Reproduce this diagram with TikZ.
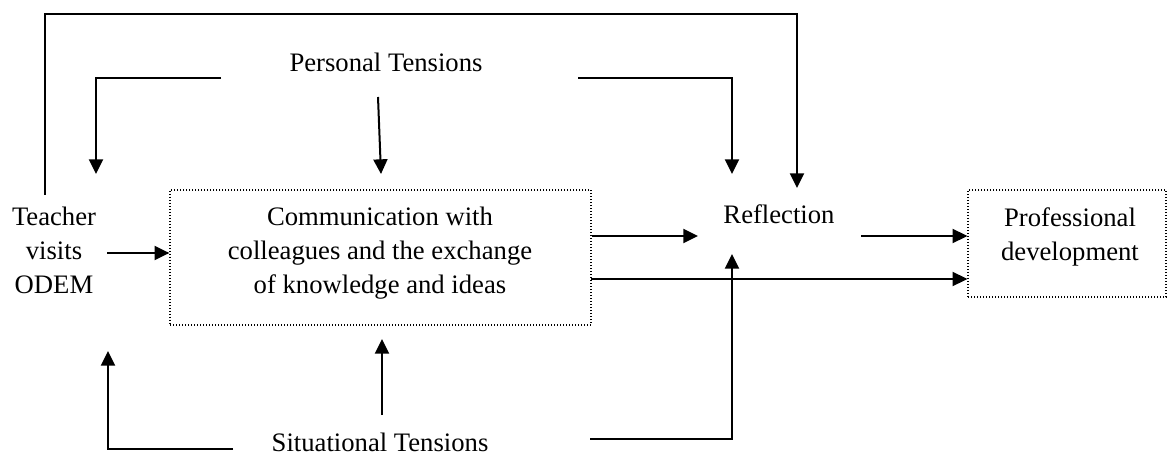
\documentclass[tikz,border=0pt]{standalone}
\usepackage{fontspec}
\setmainfont{Liberation Serif}
\usetikzlibrary{arrows.meta}
\newcommand{\px}{0.45pt}
\tikzset{
  arr/.style={line width=0.9pt, -{Triangle[length=6.6pt, width=6.3pt]}},
  dotbox/.style={draw, line width=0.6pt, dash pattern=on 0.45pt off 0.9pt, inner sep=0pt},
  txt/.style={align=center, inner sep=0pt, font=\fontsize{12}{15.3}\selectfont}
}

\begin{document}
\begin{tikzpicture}[x=\px, y=-\px]
  \useasboundingbox (0,0) rectangle (1168,456);
  % texts and boxes
  \node[txt, anchor=base] (personal) at (386,72) {Personal Tensions};
  \node[txt, anchor=base] (situational) at (380,451) {Situational Tensions};
  \node[txt, anchor=base] (reflection) at (779,223) {Reflection};
  \node[txt] (teacher) at (54,250) {Teacher\\visits\\ODEM};
  \node[dotbox, minimum width=421*\px, minimum height=135*\px] (commbox) at (380.5,257.5) {};
  \node[txt] (comm) at (380,253) {Communication with\\colleagues and the exchange\\of knowledge and ideas};
  \node[dotbox, minimum width=198*\px, minimum height=107*\px] (profbox) at (1067,243.5) {};
  \node[txt] (prof) at (1070,236.5) {Professional\\development};

  % free ends of the connectors
  \coordinate (loopS) at (45,195);
  \coordinate (loopT) at (45,14);
  \coordinate (loopE) at (797,188);
  \coordinate (persL) at (221,78);
  \coordinate (persM) at (378,97);
  \coordinate (persR) at (578,78);
  \coordinate (teachIn) at (96,174);
  \coordinate (commIn) at (381,174);
  \coordinate (reflInP) at (732,174);
  \coordinate (teachOut) at (107,253);
  \coordinate (reflInC) at (698,236);
  \coordinate (commOut) at (591,279);
  \coordinate (reflOut) at (861,236);
  \coordinate (sitL) at (233,449);
  \coordinate (sitM) at (382,415);
  \coordinate (sitR) at (590,439);
  \coordinate (teachUp) at (108,351);
  \coordinate (commUp) at (382,339);
  \coordinate (reflUp) at (732,254);

  % connectors
  \draw[arr] (loopS) -- (loopT) -| (loopE);
  \draw[arr] (persL) -| (teachIn);
  \draw[arr] (persM) -- (commIn);
  \draw[arr] (persR) -| (reflInP);
  \draw[arr] (teachOut) -- (commbox.west |- teachOut);
  \draw[arr] (commbox.east |- reflInC) -- (reflInC);
  \draw[arr] (commOut) -- (profbox.west |- commOut);
  \draw[arr] (reflOut) -- (profbox.west |- reflOut);
  \draw[arr] (sitL) -| (teachUp);
  \draw[arr] (sitM) -- (commUp);
  \draw[arr] (sitR) -| (reflUp);
\end{tikzpicture}
\end{document}
